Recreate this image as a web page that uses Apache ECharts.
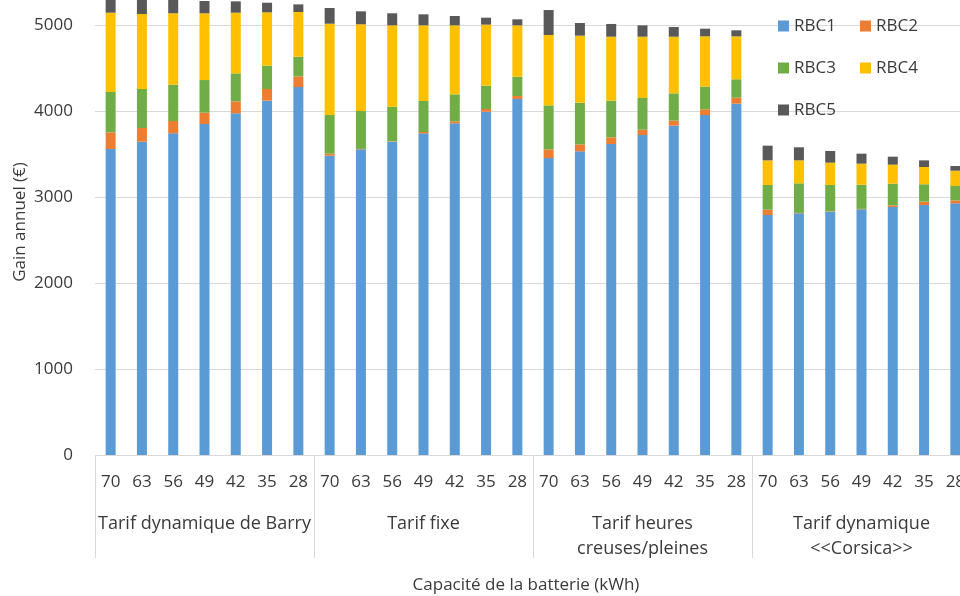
<!DOCTYPE html>
<html>
<head>
<meta charset="utf-8">
<script src="https://cdn.jsdelivr.net/npm/echarts@6/dist/echarts.min.js"></script>
<style>
html,body{margin:0;padding:0;background:#fff;overflow:hidden;width:960px;height:596px;}
#chart{position:absolute;left:0;top:-61px;width:971px;height:657px;}
</style>
</head>
<body>
<div id="chart"></div>
<script>
const capacities = ['70','63','56','49','42','35','28','70','63','56','49','42','35','28','70','63','56','49','42','35','28','70','63','56','49','42','35','28'];
const groups = ['Tarif dynamique de Barry','Tarif fixe','Tarif heures\ncreuses/pleines','Tarif dynamique\n<<Corsica>>'];
const yTicks = [0,1000,2000,3000,4000,5000];
const rbc1 = [3558,3643,3740,3849,3973,4120,4279, 3480,3554,3643,3740,3857,3992,4140, 3453,3531,3616,3721,3829,3953,4085, 2791,2810,2829,2857,2884,2907,2926];
const rbc2 = [194,159,144,131,139,136,124, 24,5,5,16,23,31,34, 101,81,78,62,59,67,70, 62,5,5,5,19,39,35];
const rbc3 = [469,454,422,380,326,271,228, 449,441,402,360,314,272,225, 512,485,426,368,317,263,214, 287,344,306,281,252,202,167];
const rbc4 = [922,872,830,776,705,620,520, 1062,1008,946,880,802,709,597, 818,779,744,713,659,585,499, 286,267,259,245,221,201,178];
const rbc5 = [200,185,165,143,132,112,89, 183,151,140,128,109,81,70, 290,147,148,132,113,89,70, 171,152,136,116,93,77,54];
const seriesNames = ['RBC1','RBC2','RBC3','RBC4','RBC5'];
const seriesData = [rbc1,rbc2,rbc3,rbc4,rbc5];
const colors = ['#5B9BD5','#ED7D31','#70AD47','#FFC000','#595959'];

const FONT = 'Open Sans';
const FS = 17;
const TXT = '#3a3a3a';
const DY = 61; // chart container is shifted up by this many px
const chart = echarts.init(document.getElementById('chart'));
const legendPos = [[778,16],[860,16],[778,58],[860,58],[778,100]];
const option = {
  animation:false,
  color:colors,
  textStyle:{fontFamily:FONT},
  grid:{left:95,right:0,top:0,bottom:141,containLabel:false},
  legend: seriesNames.map((n,i)=>({
    data:[n], left:legendPos[i][0], top:legendPos[i][1]+DY, padding:0,
    icon:'rect', itemWidth:11, itemHeight:11,
    textStyle:{fontSize:FS, color:TXT, fontFamily:FONT, lineHeight:20}
  })),
  xAxis:[
    {type:'category', data:capacities, gridIndex:0,
     axisLine:{lineStyle:{color:'#D9D9D9'}}, axisTick:{show:false},
     axisLabel:{interval:0, margin:17, fontSize:FS, lineHeight:20, color:TXT, fontFamily:FONT}},
    {type:'category', data:groups, gridIndex:0, position:'bottom',
     axisLine:{show:false},
     axisTick:{show:true, length:103, interval:0, lineStyle:{color:'#D9D9D9'}},
     axisLabel:{interval:0, margin:56, fontSize:18, lineHeight:25, color:TXT, fontFamily:FONT},
     splitLine:{show:false}}
  ],
  yAxis:{type:'value', min:0, max:6000, interval:1000,
    axisLine:{show:false}, axisTick:{show:false},
    splitLine:{lineStyle:{color:'#D9D9D9'}},
    axisLabel:{margin:22, fontSize:FS, color:TXT, fontFamily:FONT,
      formatter:v=> yTicks.indexOf(v)>=0 ? String(v) : ''}},
  graphic:[
    {type:'text', x:526, y:585+DY, style:{text:'Capacité de la batterie (kWh)', font:FS+'px "'+FONT+'"', fill:TXT, align:'center', verticalAlign:'middle'}},
    {type:'text', x:20, y:222+DY, rotation:Math.PI/2, style:{text:'Gain annuel (€)', font:FS+'px "'+FONT+'"', fill:TXT, align:'center', verticalAlign:'middle'}}
  ],
  series: seriesNames.map((n,i)=>({
    name:n, type:'bar', stack:'total', barWidth:10, xAxisIndex:0,
    data:seriesData[i]
  }))
};
chart.setOption(option);
</script>
</body>
</html>
